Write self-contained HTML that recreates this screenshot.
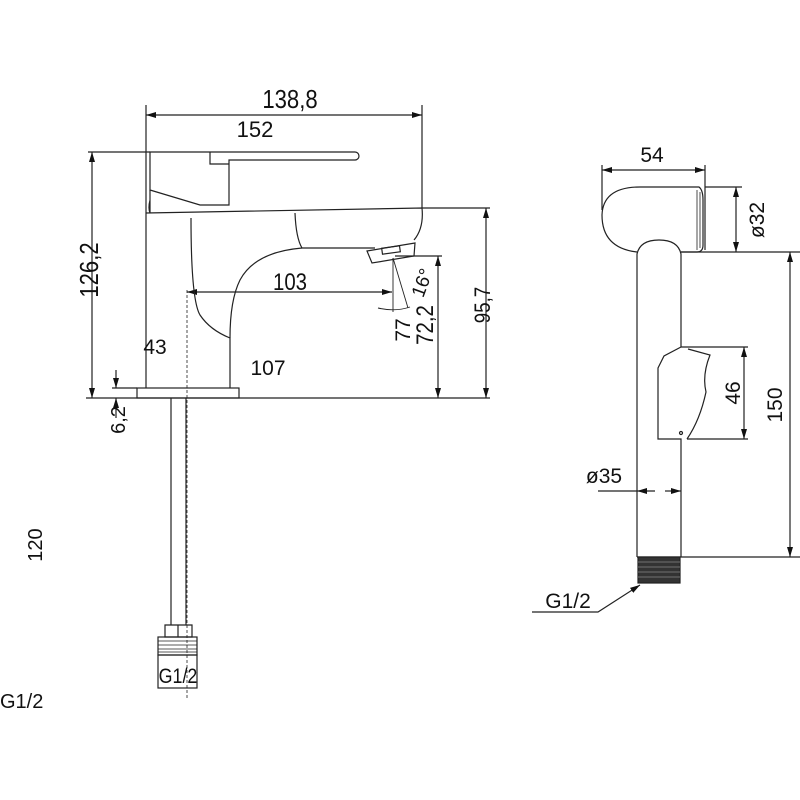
<!DOCTYPE html>
<html><head><style>body{margin:0;background:#fff}svg{display:block}text{font-family:"Liberation Sans",sans-serif;fill:#111}</style></head>
<body>
<svg width="800" height="800" viewBox="0 0 800 800" xmlns="http://www.w3.org/2000/svg">
<defs>
<marker id="a" viewBox="0 0 10 6" refX="10" refY="3" markerWidth="10" markerHeight="6" orient="auto-start-reverse" markerUnits="userSpaceOnUse"><path d="M0,0L10,3L0,6z" fill="#111"/></marker>
</defs>
<g stroke="#222" stroke-width="1.2" fill="none">
<line x1="146" y1="115" x2="422" y2="115" marker-start="url(#a)" marker-end="url(#a)"/>
<line x1="146" y1="105" x2="146" y2="213"/>
<line x1="422" y1="105" x2="422" y2="208"/>
<line x1="92" y1="152" x2="92" y2="398" marker-start="url(#a)" marker-end="url(#a)"/>
<line x1="88" y1="152" x2="150" y2="152"/>
<line x1="86" y1="398" x2="490" y2="398"/>
<line x1="422" y1="208" x2="490" y2="208"/>
<line x1="486" y1="208" x2="486" y2="398" marker-start="url(#a)" marker-end="url(#a)"/>
<line x1="395" y1="256" x2="442" y2="256"/>
<line x1="438" y1="256" x2="438" y2="398" marker-start="url(#a)" marker-end="url(#a)"/>
<line x1="187" y1="292" x2="392" y2="292" marker-start="url(#a)" marker-end="url(#a)"/>
<line x1="187" y1="290" x2="187" y2="700" stroke-dasharray="3,2" stroke-width="0.8"/>
<line x1="393" y1="258" x2="393" y2="312" stroke-width="0.9"/>
<line x1="393" y1="258" x2="408" y2="308" stroke-width="0.9"/>
<path d="M378,308 Q395,312 410,307" stroke-width="0.9"/>
<line x1="112" y1="388" x2="137" y2="388"/>
<line x1="116" y1="370" x2="116" y2="388" marker-end="url(#a)"/>
<line x1="116" y1="418" x2="116" y2="398" marker-end="url(#a)"/>
<path d="M150,152 H355 A4,4 0 0 1 355,160 H229 V205 L200,205 L150,190 Z"/>
<path d="M210,152 V164 H229"/>
<path d="M150,190 L150,213 M150,200 Q148,208 150,213"/>
<path d="M146,213 L422,208 Q424,228 414,240"/>
<line x1="146" y1="213" x2="146" y2="388"/>
<path d="M191,218 Q191,300 200,315 Q210,330 230,338 V388"/>
<path d="M295,213 Q296,238 302,248 H375"/>
<path d="M302,248 Q255,252 240,280 Q230,300 230,338"/>
<path d="M367,251 L415,243 L414,256 L372,263 Z"/>
<rect x="382" y="247" width="18" height="6" transform="rotate(-8 391 250)"/>
<rect x="137" y="388" width="102" height="10"/>
<line x1="171" y1="398" x2="171" y2="625"/>
<line x1="186" y1="398" x2="186" y2="625"/>
<path d="M165,625 H192 V637 H165 Z M178,625 V637"/>
<rect x="158" y="637" width="39" height="18"/>
<path d="M158,641 H197 M158,645 H197 M158,649 H197 M158,652 H197" stroke-width="0.8"/>
<rect x="158" y="655" width="39" height="33"/>
<line x1="602" y1="170" x2="705" y2="170" marker-start="url(#a)" marker-end="url(#a)"/>
<line x1="602" y1="165" x2="602" y2="210"/>
<line x1="705" y1="165" x2="705" y2="250"/>
<path d="M637,252 Q602,248 602,215 Q603,187 640,187 H699 Q703,190 703,200 V245 Q703,252 697,252 H681"/>
<path d="M697,190 V250 M700,192 V248" stroke-width="0.8"/>
<line x1="705" y1="187" x2="742" y2="187"/>
<line x1="736" y1="187" x2="736" y2="252" marker-start="url(#a)" marker-end="url(#a)"/>
<line x1="681" y1="252" x2="800" y2="252"/>
<path d="M637,557 V254 Q640,240 659,240 Q678,240 681,254 V347"/>
<path d="M681,347 L664,356 L658,368 V439 H681 V557"/>
<path d="M688,349 L710,355 Q702,375 706,392 Q700,420 687,439"/>
<line x1="681" y1="347" x2="748" y2="347"/>
<line x1="687" y1="439" x2="748" y2="439"/>
<line x1="744" y1="347" x2="744" y2="439" marker-start="url(#a)" marker-end="url(#a)"/>
<circle cx="681" cy="433" r="1.5"/>
<line x1="790" y1="252" x2="790" y2="557" marker-start="url(#a)" marker-end="url(#a)"/>
<line x1="637" y1="557" x2="800" y2="557"/>
<line x1="598" y1="491" x2="637" y2="491"/>
<line x1="655" y1="491" x2="637" y2="491" marker-end="url(#a)"/>
<line x1="665" y1="491" x2="681" y2="491" marker-end="url(#a)"/>
<rect x="638" y="557" width="42" height="26" fill="#333"/>
<path d="M638,562 H680 M638,567 H680 M638,572 H680 M638,577 H680" stroke="#888" stroke-width="0.8"/>
<path d="M532,612 H598 L640,585" marker-end="url(#a)"/>
</g>
<g font-size="21">
<text transform="translate(290 108) scale(0.85 1)" text-anchor="middle" font-size="26">138,8</text>
<text x="255" y="137" text-anchor="middle" font-size="22">152</text>
<text transform="translate(290 290) scale(0.85 1)" text-anchor="middle" font-size="24">103</text>
<text x="155" y="354" text-anchor="middle">43</text>
<text x="268" y="375" text-anchor="middle">107</text>
<text transform="translate(98 270) rotate(-90) scale(0.85 1)" text-anchor="middle" font-size="26">126,2</text>
<text transform="translate(125 420) rotate(-90)" text-anchor="middle" font-size="20">6,2</text>
<text transform="translate(410 330) rotate(-90)" text-anchor="middle" font-size="21">77</text>
<text transform="translate(433 325) rotate(-90) scale(0.85 1)" text-anchor="middle" font-size="24">72,2</text>
<text transform="translate(490 305) rotate(-90) scale(0.85 1)" text-anchor="middle" font-size="22" fill="#445">95,7</text>
<text transform="translate(428 285) rotate(-70)" text-anchor="middle" font-size="19" fill="#445">16°</text>
<text transform="translate(42 545) rotate(-90)" text-anchor="middle" font-size="20">120</text>
<text x="0" y="708" font-size="20">G1/2</text>
<text transform="translate(178 683) scale(0.85 1)" text-anchor="middle" font-size="21">G1/2</text>
<text x="652" y="162" text-anchor="middle">54</text>
<text transform="translate(764 220) rotate(-90)" text-anchor="middle">ø32</text>
<text transform="translate(740 393) rotate(-90)" text-anchor="middle">46</text>
<text transform="translate(782 405) rotate(-90)" text-anchor="middle">150</text>
<text x="604" y="483" text-anchor="middle">ø35</text>
<text x="568" y="608" text-anchor="middle" fill="#444">G1/2</text>
</g>
</svg>
</body></html>
